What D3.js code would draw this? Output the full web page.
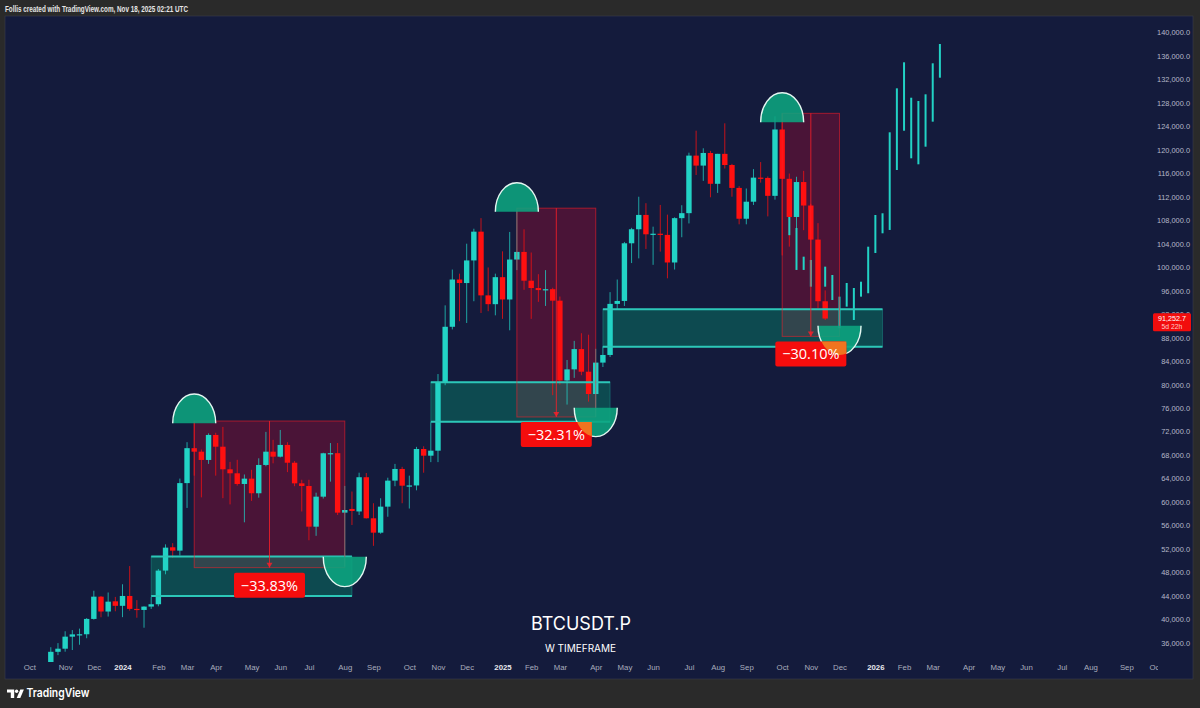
<!DOCTYPE html>
<html><head><meta charset="utf-8">
<script src="https://cdn.jsdelivr.net/npm/d3@7"></script>
<style>html,body{margin:0;padding:0;background:#2a2a2a;overflow:hidden}</style>
</head><body>
<svg id="c" width="1200" height="708"></svg>
<script>
// ---------- DATA ----------
const startDate = "2023-10-02";        // first weekly bar (Monday)
const lastIndex = 157;                 // last week shown on the time axis
const opens = [27970,27930,27150,29990,34500,35030,37080,37470,37490,40100,
43890,41360,43100,42330,44010,41810,41630,42200,42600,48330,
52300,51730,63230,69180,68580,67170,71430,69430,65580,64900,
63080,63990,61500,66320,68580,67730,69730,66700,63190,62740,
55810,60920,68250,68330,58200,58830,58400,64230,57240,54790,
59220,63650,65640,62790,62830,69040,67900,68750,80400,89850,
97900,97300,101150,106050,95200,93700,98300,94500,101300,102600,
97700,96450,96100,96250,94300,80700,82600,86050,82200,78400,
83750,85050,93750,94250,104070,106460,108900,105600,105700,105500,
100800,108350,109200,119000,117300,119450,114200,119300,117400,113500,
108250,111150,115250,115200,112150,123450,115050,108550,114500,110500,
104700,94200];
const highs = [28590,28000,30400,35280,35980,38000,38200,38450,40250,44900,
44000,44600,43850,46000,49100,43300,42250,43850,48600,52800,
53000,64000,70200,73800,68950,71700,71800,72800,66850,67200,
64700,65500,67450,71950,70600,72280,70200,67000,63800,63800,
61600,68400,70050,70050,62750,61800,65000,64950,59800,60650,
64150,66500,66000,64500,69400,69500,73600,81800,93500,99600,
98900,104000,106550,108350,99950,98900,102700,106000,109600,106450,
102500,98800,99500,96500,95000,84200,87450,88750,88500,86100,
86500,95750,97900,104300,106700,112000,110900,106900,110600,108950,
108500,110550,119500,123250,120250,119800,119300,124500,117600,113800,
113400,116700,117900,115450,125700,126200,115950,115400,116400,110800,
107500,96050];
const lows = [27160,26540,26960,29870,33930,34520,34800,35700,36810,39980,
40380,40500,41400,40400,41500,40300,38600,41800,42250,47700,
50500,50900,59000,64500,60800,66500,64500,60660,59600,62800,
56550,60200,60750,66100,66600,67600,65100,62700,58400,53500,
54250,60600,63480,57800,49000,56100,57800,57200,52550,54600,
57500,62700,59800,58900,62000,65000,66800,66800,79900,89400,
90800,90500,94200,92200,92500,91800,91200,89250,99500,96150,
91200,94100,93400,78200,80000,76600,81150,81600,77100,74500,
83000,84700,92800,93400,100700,101500,103100,100400,102650,98100,
99600,105100,107450,115700,114700,111900,112650,116800,112000,107300,
107300,110600,114400,108650,111500,102000,103500,106600,106300,98900,
93000,91000];
const closes = [27930,27150,29990,34500,35030,37080,37470,37490,40100,43890,
41360,43040,42330,44010,41810,41630,42200,42600,48330,52240,
51730,63230,69180,68580,67170,71430,69430,65580,64900,63080,
63990,61500,66320,68580,67730,69730,66700,63190,62740,55810,
60920,68310,68330,58200,58650,58480,64230,57240,54790,59220,
63650,65640,62790,62830,69040,67900,68750,80400,89850,97900,
97300,101150,106050,95200,93700,98300,94500,101300,102600,97700,
96450,96100,96250,94300,80700,82600,86050,82200,78400,83750,
85050,93750,94250,104070,106460,108900,105600,105700,105500,100800,
108350,109200,119000,117300,119450,114200,119300,117400,113500,108250,
111150,115250,115200,112150,123450,115050,108550,114500,110500,104700,
94200,91253];
const lastPrice = 91252.7;
const lastPriceTimer = "5d 22h";

// projected bars (bar index, high, low)
const projIndex = [106,107,108,109,111,112,113,114,115,116,117,118,119,120,121,122,123,124,125,126,127];
const projHigh = [108550,106680,101790,101230,100090,98670,94980,97310,96460,97530,103490,108890,109180,122970,130460,134890,128860,128300,129440,134720,138010];
const projLow  = [105450,99530,99530,96680,96680,94410,89600,93280,91010,94980,95560,102420,105770,106340,116550,123240,118540,117520,120520,124780,132270];

// price-range drawdowns
const rangeFrom = [23, 68, 105];
const rangeTo = [44, 79, 113];
const rangeHigh = [73800, 110050, 126200];
const rangeLow = [48830, 74490, 88214];
const rangeLabels = ["\u221233.83%", "\u221232.31%", "\u221230.10%"];

// support zones
const zoneFrom = [17, 56, 80];
const zoneTo = [45, 81, 119];
const zoneTop = [50710, 80400, 92830];
const zoneBottom = [44020, 73690, 86460];

// top caps (at highs) and bottom bowls (at lows)
const capIndex = [23, 68, 105];
const capBase = [73420, 109450, 124675];
const capTop = [78410, 114390, 129715];
const bowlIndex = [44, 79, 113];
const bowlTop = [50705, 76080, 90040];
const bowlBottom = [45600, 71140, 85050];

const yTicks = d3.range(36000, 140001, 4000);
const title = "BTCUSDT.P";
const subtitle = "W TIMEFRAME";
const header = "Follis created with TradingView.com, Nov 18, 2025 02:21 UTC";

// ---------- SCALES ----------
const x = d3.scaleLinear().domain([0, lastIndex]).range([29.3, 1155]);
const y = d3.scaleLinear().domain([36000, 140000]).range([643, 32.3]);
const step = x(1) - x(0);
const capHalf = 3; // bars

const UP = "#22d3c5", DOWN = "#ff1010";
const svg = d3.select("#c");
const defs = svg.append("defs");
defs.append("clipPath").attr("id", "plot").append("rect")
  .attr("x", 5).attr("y", 16).attr("width", 1143).attr("height", 646);
defs.append("clipPath").attr("id", "xaxis").append("rect")
  .attr("x", 5).attr("y", 660).attr("width", 1153).attr("height", 20);

svg.append("rect").attr("width", 1200).attr("height", 708).attr("fill", "#2a2a2a");
svg.append("rect").attr("x", 5).attr("y", 16).attr("width", 1188).attr("height", 663)
  .attr("fill", "#141b3c").attr("stroke", "#3a3d4a").attr("stroke-width", 0.6);

svg.append("text").attr("x", 5).attr("y", 11.5).text(header)
  .attr("font-family", "Liberation Sans, Arial, sans-serif").attr("font-size", 9)
  .attr("font-weight", 600).attr("fill", "#e6e6e6")
  .attr("textLength", 183).attr("lengthAdjust", "spacingAndGlyphs");

const plot = svg.append("g").attr("clip-path", "url(#plot)");

// price range fills
const ridx = d3.range(rangeFrom.length);
plot.selectAll("rect.rf").data(ridx).join("rect")
  .attr("x", i => x(rangeFrom[i])).attr("y", i => y(rangeHigh[i]))
  .attr("width", i => x(rangeTo[i]) - x(rangeFrom[i]))
  .attr("height", i => y(rangeLow[i]) - y(rangeHigh[i]))
  .attr("fill", "rgba(255,0,40,0.23)");

// zone fills
const zidx = d3.range(zoneFrom.length);
plot.selectAll("rect.zf").data(zidx).join("rect")
  .attr("x", i => x(zoneFrom[i])).attr("y", i => y(zoneTop[i]))
  .attr("width", i => x(zoneTo[i]) - x(zoneFrom[i]))
  .attr("height", i => y(zoneBottom[i]) - y(zoneTop[i]))
  .attr("fill", "rgba(0,175,125,0.32)")
  .attr("stroke", "rgba(40,200,180,0.3)").attr("stroke-width", 1);

// candles
const cidx = d3.range(opens.length);
const candles = plot.append("g");
candles.selectAll("line").data(cidx).join("line")
  .attr("x1", i => x(i)).attr("x2", i => x(i))
  .attr("y1", i => y(highs[i])).attr("y2", i => y(lows[i]))
  .attr("stroke", i => closes[i] >= opens[i] ? UP : DOWN)
  .attr("stroke-opacity", 0.75).attr("stroke-width", 1);
candles.selectAll("rect").data(cidx).join("rect")
  .attr("x", i => x(i) - 2.7).attr("width", 5.4)
  .attr("y", i => y(Math.max(opens[i], closes[i])))
  .attr("height", i => Math.max(1.2, Math.abs(y(opens[i]) - y(closes[i]))))
  .attr("fill", i => closes[i] >= opens[i] ? UP : DOWN);

// projected bars
plot.selectAll("line.pj").data(d3.range(projIndex.length)).join("line")
  .attr("x1", k => x(projIndex[k])).attr("x2", k => x(projIndex[k]))
  .attr("y1", k => y(projHigh[k])).attr("y2", k => y(projLow[k]))
  .attr("stroke", UP).attr("stroke-width", 2);

// zone border lines
zidx.forEach(i => {
  [zoneTop[i], zoneBottom[i]].forEach(p => {
    plot.append("line").attr("x1", x(zoneFrom[i])).attr("x2", x(zoneTo[i]))
      .attr("y1", y(p)).attr("y2", y(p))
      .attr("stroke", "#2cc7b8").attr("stroke-width", 2);
  });
});

// price range outlines
ridx.forEach(i => {
  const x0 = x(rangeFrom[i]), x1 = x(rangeTo[i]);
  const yt = y(rangeHigh[i]), yb = y(rangeLow[i]);
  plot.append("rect").attr("x", x0).attr("y", yt).attr("width", x1 - x0).attr("height", yb - yt)
    .attr("fill", "none").attr("stroke", "rgba(255,30,40,0.55)").attr("stroke-width", 1);
  const xm = (x0 + x1) / 2;
  plot.append("line").attr("x1", xm).attr("x2", xm).attr("y1", yt).attr("y2", yb)
    .attr("stroke", "rgba(255,30,40,0.8)").attr("stroke-width", 1);
  plot.append("path").attr("d", `M${xm-3},${yb-5}L${xm+3},${yb-5}L${xm},${yb}Z`)
    .attr("fill", "rgba(255,30,40,0.8)");
});

// caps and bowls
function halfEllipse(cx, base, tip, up) {
  const rx = capHalf * step, ry = Math.abs(base - tip);
  return `M${cx-rx},${base}A${rx},${ry} 0 0 ${up ? 1 : 0} ${cx+rx},${base}`;
}
capIndex.forEach((c, i) => {
  const d = halfEllipse(x(c), y(capBase[i]), y(capTop[i]), true);
  plot.append("path").attr("d", d + "Z").attr("fill", "rgba(12,165,128,0.88)");
  plot.append("path").attr("d", d).attr("fill", "none").attr("stroke", "#e4f7f2").attr("stroke-width", 1.4);
});
bowlIndex.forEach((c, i) => {
  const d = halfEllipse(x(c), y(bowlTop[i]), y(bowlBottom[i]), false);
  plot.append("path").attr("d", d + "Z").attr("fill", "rgba(12,165,128,0.88)");
  plot.append("path").attr("d", d).attr("fill", "none").attr("stroke", "#e4f7f2").attr("stroke-width", 1.4);
});

// drawdown labels
ridx.forEach(i => {
  const xm = (x(rangeFrom[i]) + x(rangeTo[i])) / 2;
  const yb = y(rangeLow[i]) + 5;
  const bw = 71, bh = 25;
  plot.append("rect").attr("x", xm - bw/2).attr("y", yb).attr("width", bw).attr("height", bh)
    .attr("rx", 2).attr("fill", "#f50d0d");
  defs.append("clipPath").attr("id", "lb" + i).append("rect")
    .attr("x", xm - bw/2).attr("y", yb).attr("width", bw).attr("height", bh);
  const c = bowlIndex[i];
  const d = halfEllipse(x(c), y(bowlTop[i]), y(bowlBottom[i]), false);
  plot.append("path").attr("d", d + "Z").attr("fill", "#f0741f").attr("clip-path", `url(#lb${i})`);
  plot.append("text").attr("x", xm).attr("y", yb + 18).attr("text-anchor", "middle")
    .attr("font-family", "Open Sans, Liberation Sans, sans-serif").attr("font-size", 14.5)
    .attr("fill", "#ffffff").text(rangeLabels[i]);
});

// title
svg.append("text").attr("x", 581).attr("y", 630).attr("text-anchor", "middle")
  .attr("font-family", "Inter, Open Sans, sans-serif").attr("font-size", 18)
  .attr("fill", "#ffffff").text(title);
svg.append("text").attr("x", 580.5).attr("y", 651.5).attr("text-anchor", "middle")
  .attr("font-family", "Inter, Open Sans, sans-serif").attr("font-size", 10)
  .attr("fill", "#ffffff").text(subtitle);

// price axis
const yAxis = d3.axisRight(y).tickValues(yTicks).tickSize(0).tickPadding(0)
  .tickFormat(d3.format(",.1f"));
const ya = svg.append("g").attr("transform", "translate(1190,0)").call(yAxis);
ya.select(".domain").remove();
ya.selectAll("text").attr("text-anchor", "end").attr("fill", "#b4b8c8")
  .attr("font-family", "Liberation Sans, Arial, sans-serif").attr("font-size", 7.4);

// last price label
const yl = y(lastPrice);
svg.append("rect").attr("x", 1153).attr("y", yl - 5.2).attr("width", 38).attr("height", 18)
  .attr("rx", 1.5).attr("fill", "#f20d0d");
svg.append("text").attr("x", 1172).attr("y", yl + 2.6).attr("text-anchor", "middle")
  .attr("font-family", "Liberation Sans, Arial, sans-serif").attr("font-size", 7.2)
  .attr("fill", "#ffffff").text(d3.format(",.1f")(lastPrice));
svg.append("text").attr("x", 1172).attr("y", yl + 10.6).attr("text-anchor", "middle")
  .attr("font-family", "Liberation Sans, Arial, sans-serif").attr("font-size", 6.8)
  .attr("fill", "#ffc9c9").text(lastPriceTimer);

// time axis: label at first weekly bar of each month
const start = d3.timeParse("%Y-%m-%d")(startDate);
const weeks = d3.range(lastIndex + 1).map(i => d3.timeMonday.offset(start, i));
const monthTicks = weeks.map((d, i) => ({i, d}))
  .filter(o => o.i === 0 || o.d.getMonth() !== weeks[o.i - 1].getMonth());
const xAxis = d3.axisBottom(x).tickValues(monthTicks.map(o => o.i)).tickSize(0).tickPadding(0)
  .tickFormat(i => { const d = weeks[i]; return d.getMonth() === 0 ? d3.timeFormat("%Y")(d) : d3.timeFormat("%b")(d); });
const xa = svg.append("g").attr("clip-path", "url(#xaxis)").append("g")
  .attr("transform", "translate(0,664)").call(xAxis);
xa.select(".domain").remove();
xa.selectAll("text").attr("dy", "0.71em")
  .attr("font-family", "Liberation Sans, Arial, sans-serif").attr("font-size", 7.8)
  .attr("fill", i => weeks[i].getMonth() === 0 ? "#e8e9ee" : "#a9adbd")
  .attr("font-weight", i => weeks[i].getMonth() === 0 ? 700 : 400);

// TradingView footer logo
const lg = svg.append("g").attr("fill", "#ffffff");
lg.append("path").attr("d", "M7,689.5h7.2v8.5h-3.4v-5.4h-3.8z");
lg.append("circle").attr("cx", 16.6).attr("cy", 691.2).attr("r", 1.7);
lg.append("path").attr("d", "M20.3,689.5h3.6l-3.6,8.5h-3.6z");
svg.append("text").attr("x", 26.5).attr("y", 697).text("TradingView")
  .attr("font-family", "Inter, Open Sans, sans-serif").attr("font-size", 12)
  .attr("font-weight", 600).attr("fill", "#ffffff")
  .attr("textLength", 63).attr("lengthAdjust", "spacingAndGlyphs");
</script>
</body></html>
